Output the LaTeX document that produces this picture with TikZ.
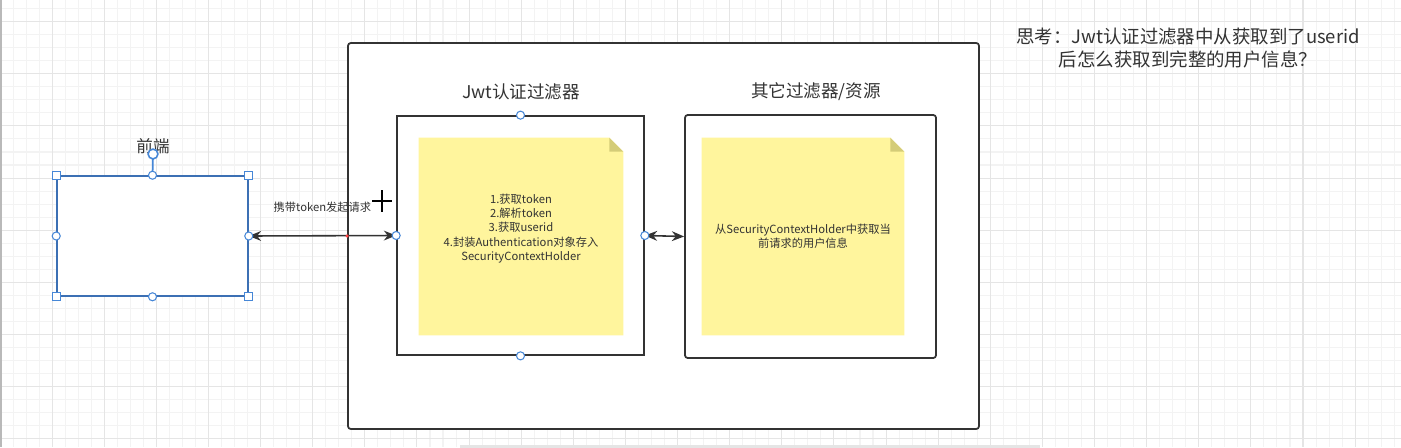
\documentclass[tikz,border=0pt]{standalone}
\usepackage{fontspec}
\setmainfont{Noto Sans CJK SC}
\usetikzlibrary{arrows.meta,positioning,calc}
\definecolor{Ink}{RGB}{51,51,51}
\definecolor{GridMinor}{RGB}{243,243,243}
\definecolor{GridMajor}{RGB}{229,229,229}
\definecolor{NoteFill}{RGB}{255,245,157}
\definecolor{NoteFold}{RGB}{212,204,120}
\definecolor{SelBlue}{RGB}{60,112,180}
\definecolor{HandleBlue}{RGB}{70,135,215}
\tikzset{
  frame/.style={draw=Ink,line width=1pt,fill=white,rounded corners=1.5pt},
  filterbox/.style={draw=Ink,line width=1pt,fill=white},
  notebox/.style={inner sep=0pt},
  notetext/.style={align=center,font=\fontsize{6.4}{8.1}\selectfont,text=Ink,inner sep=0pt},
  title/.style={font=\fontsize{10}{12}\selectfont,text=Ink,inner sep=0pt},
  link/.style={<->,>={Stealth[length=7pt,width=5.6pt]},draw=Ink,line width=0.9pt},
  squarehandle/.style={draw=HandleBlue,fill=white,line width=0.6pt,minimum size=4.5pt,inner sep=0pt},
  roundhandle/.style={circle,draw=HandleBlue,fill=white,line width=0.6pt,minimum size=4.6pt,inner sep=0pt}
}

\begin{document}
\begin{tikzpicture}[x=0.02cm,y=-0.02cm]
\useasboundingbox (0,0) rectangle (1401,447);
\fill[white] (0,0) rectangle (1401,447);
% grid
\foreach \i in {0,...,107} \draw[GridMinor,line width=0.6pt] (\i*13.03,0) -- (\i*13.03,447);
\foreach \j in {0,...,33} \draw[GridMinor,line width=0.6pt] (0,8.66+\j*13.03) -- (1401,8.66+\j*13.03);
\foreach \i in {0,...,26} \draw[GridMajor,line width=0.6pt] (\i*52.12,0) -- (\i*52.12,447);
\foreach \j in {0,...,8} \draw[GridMajor,line width=0.6pt] (0,21.7+\j*52.12) -- (1401,21.7+\j*52.12);
\draw[gray!55,line width=0.8pt] (1,0) -- (1,447);
\draw[gray!20,line width=1.2pt] (460,446.5) -- (1040,446.5);

% outer container and the two filters
\node[frame,minimum width=12.62cm,minimum height=7.72cm] (chain) at (663.5,236) {};
\node[filterbox,minimum width=4.94cm,minimum height=4.78cm] (jwt) at (520.5,235.5) {};
\node[frame,minimum width=5.02cm,minimum height=4.86cm] (other) at (810.5,236.5) {};
\node[title] (jwttitle) at (521,92) {Jwt认证过滤器};
\node[title] (othertitle) at (816,92) {其它过滤器/资源};

% notes
\node[notebox,minimum width=4.08cm,minimum height=3.94cm] (jwtnote) at (521,236.5) {};
\node[notebox,minimum width=4.04cm,minimum height=3.94cm] (othernote) at (803,236.5) {};
\foreach \n in {jwtnote,othernote}{
  \fill[NoteFill] (\n.north west) -- ($(\n.north east)+(-14,0)$) -- ($(\n.north east)+(0,14)$)
    -- (\n.south east) -- (\n.south west) -- cycle;
  \fill[NoteFold] ($(\n.north east)+(-14,0)$) -- ($(\n.north east)+(0,14)$) -- ($(\n.north east)+(-14,14)$) -- cycle;
}
\node[notetext] (jwttext) at ($(jwtnote.center)+(0,-8)$)
  {1.获取token\\2.解析token\\3.获取userid\\4.封装Authentication对象存入\\SecurityContextHolder};
\node[notetext] (othertext) at (othernote.center)
  {从SecurityContextHolder中获取当\\前请求的用户信息};

% front end (selected)
\node[draw=SelBlue,line width=0.9pt,fill=white,minimum width=3.82cm,minimum height=2.4cm] (front) at (152.5,236) {};
\node[title,font=\fontsize{9.4}{11}\selectfont] (frontlabel) at (153,146) {前端};

% connectors
\draw[link] (front.east) -- node[pos=0.5,above=13pt,notetext] (req) {携带token发起请求} (jwt.west);
\draw[link] (jwt.east) -- (other.west);
\fill[red!75] (chain.west |- front.east) circle[radius=1.8];

% selection handles
\coordinate (rot) at (153,154);
\draw[HandleBlue,line width=1pt] (rot) -- (front.north);
\node[roundhandle,minimum size=5.6pt,line width=0.9pt] at (rot) {};
\foreach \a in {north west,north east,south west,south east}
  \node[squarehandle] at (front.\a) {};
\foreach \a in {north,south,west,east}
  \node[roundhandle] at (front.\a) {};
\foreach \a in {north,south,west,east}
  \node[roundhandle] at (jwt.\a) {};

% cursor
\coordinate (cur) at (382,201);
\draw[black,line width=1pt] ($(cur)+(-10,0)$) -- ($(cur)+(10,0)$);
\draw[black,line width=1pt] ($(cur)+(0,-11)$) -- ($(cur)+(0,11)$);

% question
\node[title,align=center,font=\fontsize{10.5}{13.6}\selectfont] (question) at (1188,48)
  {思考：Jwt认证过滤器中从获取到了userid\\后怎么获取到完整的用户信息？};
\end{tikzpicture}
\end{document}
